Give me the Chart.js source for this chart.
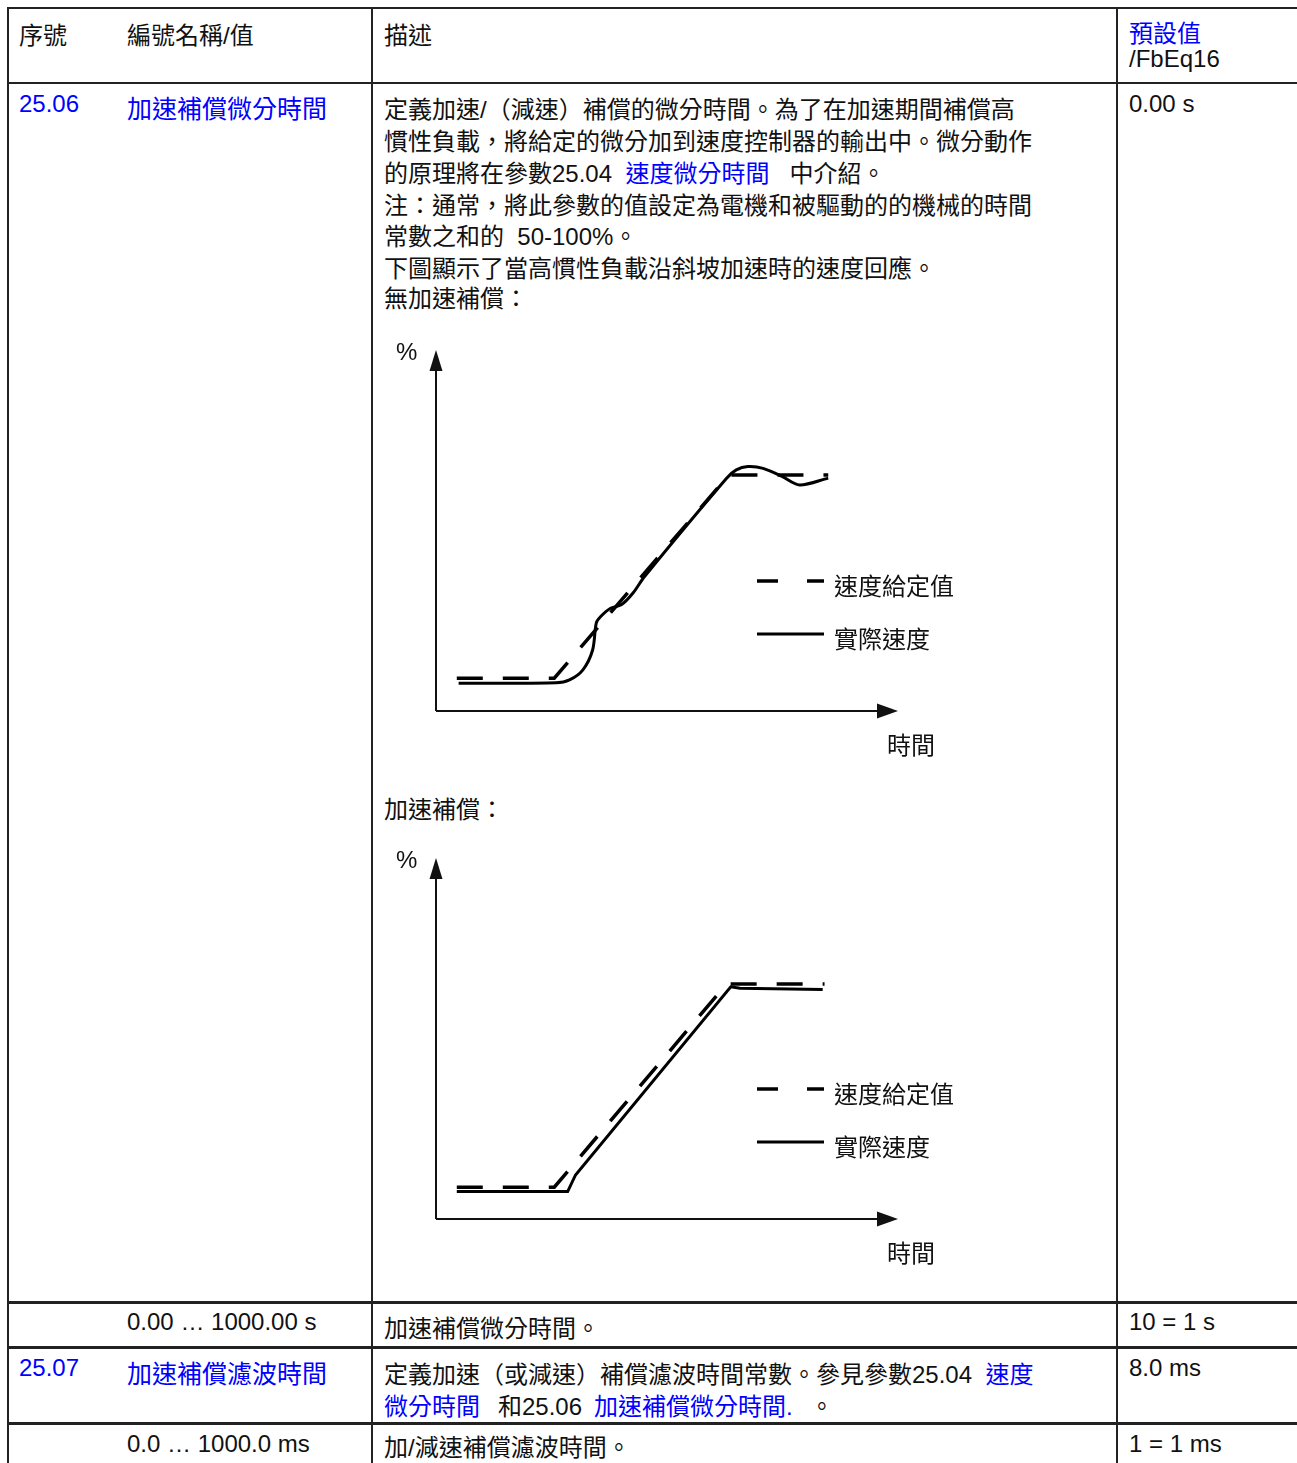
<!DOCTYPE html>
<html>
<head>
<meta charset="utf-8">
<script src="https://cdn.jsdelivr.net/npm/chart.js@4.4.1/dist/chart.umd.min.js"></script>
<style>
  html, body { margin: 0; padding: 0; background: #fff; }
  body { width: 1297px; height: 1463px; position: relative; overflow: hidden;
         font-family: "Liberation Sans", Arial, "Noto Sans CJK TC", sans-serif; font-size: 24px; color: #111; }
  .t { position: absolute; white-space: pre; line-height: 32px; }
  .b { color: #0000ff; }
  .n { font-size: 25px; }
  .h { position: absolute; background: #222; height: 2px; left: 7px; right: 0; }
  .v { position: absolute; background: #222; width: 2px; top: 7px; bottom: 0; }
  canvas { position: absolute; }
</style>
</head>
<body>
<!-- table rules -->
<div class="h" style="top:7px"></div>
<div class="h" style="top:82px"></div>
<div class="h" style="top:1301px;height:3px"></div>
<div class="h" style="top:1346px;height:3px"></div>
<div class="h" style="top:1422px;height:3px"></div>
<div class="v" style="left:7px"></div>
<div class="v" style="left:371px"></div>
<div class="v" style="left:1116px"></div>

<!-- header -->
<div class="t" style="left:19px;top:20px">序號</div>
<div class="t" style="left:127px;top:20px">編號名稱/值</div>
<div class="t" style="left:384px;top:20px">描述</div>
<div class="t b" style="left:1129px;top:18px">預設值</div>
<div class="t" style="left:1129px;top:43px">/FbEq16</div>

<!-- 25.06 -->
<div class="t b" style="left:19px;top:88px">25.06</div>
<div class="t b n" style="left:127px;top:93px">加速補償微分時間</div>
<div class="t" style="left:1129px;top:88px">0.00 s</div>
<div class="t" style="left:384px;top:94px">定義加速/（減速）補償的微分時間。為了在加速期間補償高</div>
<div class="t" style="left:384px;top:126px">慣性負載，將給定的微分加到速度控制器的輸出中。微分動作</div>
<div class="t" style="left:384px;top:158px">的原理將在參數25.04  <span class="b">速度微分時間</span>   中介紹。</div>
<div class="t" style="left:384px;top:190px">注：通常，將此參數的值設定為電機和被驅動的的機械的時間</div>
<div class="t" style="left:384px;top:221px">常數之和的  50-100%。</div>
<div class="t" style="left:384px;top:253px">下圖顯示了當高慣性負載沿斜坡加速時的速度回應。</div>
<div class="t" style="left:384px;top:283px">無加速補償：</div>

<canvas id="chart-no-comp" width="600" height="450" style="left:380px;top:330px"></canvas>
<div class="t" style="left:396px;top:336px">%</div>
<div class="t" style="left:887px;top:730px">時間</div>
<div class="t" style="left:834px;top:571px">速度給定值</div>
<div class="t" style="left:834px;top:624px">實際速度</div>

<div class="t" style="left:384px;top:794px">加速補償：</div>

<canvas id="chart-comp" width="600" height="450" style="left:380px;top:838px"></canvas>
<div class="t" style="left:396px;top:844px">%</div>
<div class="t" style="left:887px;top:1238px">時間</div>
<div class="t" style="left:834px;top:1079px">速度給定值</div>
<div class="t" style="left:834px;top:1132px">實際速度</div>

<!-- range row -->
<div class="t" style="left:127px;top:1306px">0.00 … 1000.00 s</div>
<div class="t" style="left:384px;top:1313px">加速補償微分時間。</div>
<div class="t" style="left:1129px;top:1306px">10 = 1 s</div>

<!-- 25.07 -->
<div class="t b" style="left:19px;top:1352px">25.07</div>
<div class="t b n" style="left:127px;top:1358px">加速補償濾波時間</div>
<div class="t" style="left:384px;top:1359px">定義加速（或減速）補償濾波時間常數。參見參數25.04  <span class="b">速度</span></div>
<div class="t" style="left:384px;top:1391px"><span class="b">微分時間</span><span style="margin-left:18px">和25.06</span><span class="b" style="margin-left:12px">加速補償微分時間.</span><span style="margin-left:17px">。</span></div>
<div class="t" style="left:1129px;top:1352px">8.0 ms</div>

<div class="t" style="left:127px;top:1428px">0.0 … 1000.0 ms</div>
<div class="t" style="left:384px;top:1432px">加/減速補償濾波時間。</div>
<div class="t" style="left:1129px;top:1428px">1 = 1 ms</div>

<script>
// time axis 0..100, speed in % 0..100
// chart 1: no compensation
var setX1 = [4.5, 25.6, 63.4, 84.9];
var setY1 = [9.1, 9.1, 65.4, 65.4];
var actX1 = [4.9, 26.0, 28.9, 31.8, 33.9, 34.7, 35.6, 37.7, 40.1, 42.6, 45.1, 62.9, 65.0, 67.5, 70.8, 75.0, 78.7, 84.9];
var actY1 = [7.7, 7.8, 8.6, 11.4, 16.9, 24.4, 26.1, 28.4, 29.4, 32.6, 37.2, 64.5, 66.8, 67.7, 67.2, 64.9, 62.6, 64.5];

// chart 2: with compensation
var setX2 = [4.5, 25.6, 62.9, 84.1];
var setY2 = [8.8, 8.8, 65.1, 65.1];
var actX2 = [4.5, 28.5, 30.2, 63.8, 65.8, 83.7];
var actY2 = [7.6, 7.6, 12.2, 64.3, 63.9, 63.6];

var seriesNames = ['速度給定值', '實際速度'];

function toPoints(xs, ys) {
  return xs.map(function (x, i) {
    return { x: x, y: ys[i] };
  });
}

// axes with arrow heads + legend samples
var axesArrows = {
  id: 'axesArrows',
  afterDraw: function (chart) {
    var ctx = chart.ctx;
    var a = chart.chartArea;
    ctx.save();
    ctx.strokeStyle = '#111';
    ctx.fillStyle = '#111';
    ctx.lineWidth = 2;
    ctx.beginPath();
    ctx.moveTo(a.left, a.bottom);
    ctx.lineTo(a.left, a.top + 15);
    ctx.moveTo(a.left, a.bottom);
    ctx.lineTo(a.right - 15, a.bottom);
    ctx.stroke();

    ctx.beginPath();
    ctx.moveTo(a.left, a.top);
    ctx.lineTo(a.left - 6.5, a.top + 21);
    ctx.lineTo(a.left + 6.5, a.top + 21);
    ctx.closePath();
    ctx.fill();

    ctx.beginPath();
    ctx.moveTo(a.right, a.bottom);
    ctx.lineTo(a.right - 21, a.bottom - 7.5);
    ctx.lineTo(a.right - 21, a.bottom + 7.5);
    ctx.closePath();
    ctx.fill();

    // legend samples
    var ds = chart.data.datasets;
    var lx0 = a.left + 321, lx1 = a.left + 388;
    var rows = [a.top + 231, a.top + 284];
    ds.forEach(function (d, i) {
      ctx.beginPath();
      ctx.lineWidth = d.borderWidth;
      ctx.strokeStyle = d.borderColor;
      ctx.setLineDash(i === 0 ? [21, 29] : []);
      ctx.moveTo(lx0, rows[i]);
      ctx.lineTo(lx1, rows[i]);
      ctx.stroke();
    });
    ctx.restore();
  }
};

function makeChart(id, setX, setY, actX, actY, tension) {
  return new Chart(document.getElementById(id), {
    type: 'line',
    data: {
      datasets: [{
        label: seriesNames[0],
        data: toPoints(setX, setY),
        borderColor: '#000',
        borderWidth: 3.5,
        borderDash: [26, 20],
        pointRadius: 0,
        tension: 0,
        fill: false
      }, {
        label: seriesNames[1],
        data: toPoints(actX, actY),
        borderColor: '#000',
        borderWidth: 3,
        pointRadius: 0,
        tension: tension,
        fill: false
      }]
    },
    options: {
      responsive: false,
      animation: false,
      events: [],
      layout: {
        padding: { left: 56, top: 20, right: 82, bottom: 69 }
      },
      plugins: {
        legend: { display: false },
        tooltip: { enabled: false }
      },
      scales: {
        x: { type: 'linear', min: 0, max: 100, display: false },
        y: { type: 'linear', min: 0, max: 100, display: false }
      }
    },
    plugins: [axesArrows]
  });
}

makeChart('chart-no-comp', setX1, setY1, actX1, actY1, 0.3);
makeChart('chart-comp', setX2, setY2, actX2, actY2, 0);
</script>
</body>
</html>
